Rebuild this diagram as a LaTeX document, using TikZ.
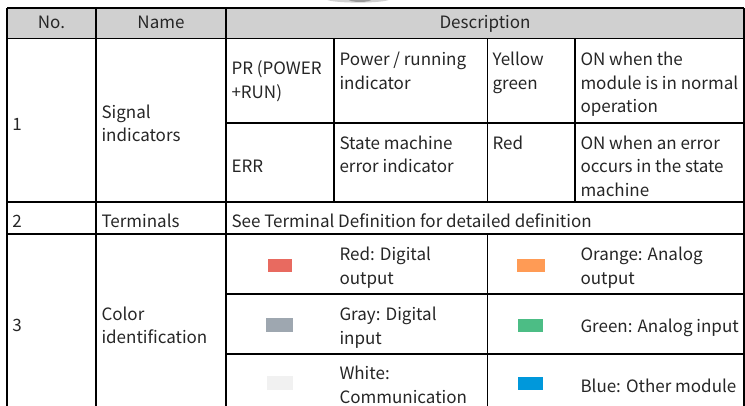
\documentclass[tikz,border=0pt]{standalone}
\usepackage{fontspec}
\setmainfont{Noto Sans CJK SC}
\definecolor{txt}{HTML}{262626}
\definecolor{hdr}{HTML}{D0D0D0}
\definecolor{swred}{HTML}{E86A60}
\definecolor{sworange}{HTML}{FF9B55}
\definecolor{swgray}{HTML}{9EA7B0}
\definecolor{swgreen}{HTML}{4CBD85}
\definecolor{swblue}{HTML}{0098DB}
\definecolor{swwhite}{HTML}{F1F1F1}
\newcommand{\lines}[1]{\begin{tabular}[t]{@{}l@{}}#1\end{tabular}}
\begin{document}
\begin{tikzpicture}[x=1pt,y=-1pt,
  cell/.style={anchor=base west, inner sep=0pt, outer sep=0pt, text=txt,
    font=\fontsize{17}{23.3}\selectfont},
  ccell/.style={cell, anchor=base},
  rule/.style={line width=1.2pt, draw=black},
  swatch/.style={draw=none}]
\clip (0,0) rectangle (745,406);
\fill[white] (0,0) rectangle (745,406);
% faint fragment at top edge
\fill[black!18] (358,-1) ellipse [x radius=32pt, y radius=3.6pt];
\fill[black!40] (360,-1) ellipse [x radius=12pt, y radius=3pt];
% header background
\fill[hdr] (7,8) rectangle (744,38.5);
% swatches
\fill[swred]    (268,259) rectangle (292,272);
\fill[sworange] (517,259) rectangle (545,272);
\fill[swgray]   (266,318) rectangle (293,332);
\fill[swgreen]  (518,319) rectangle (543,332);
\fill[swwhite]  (267,376) rectangle (293,390);
\fill[swblue]   (518,377) rectangle (543,390);
% rules
\draw[rule] (7,8) -- (744,8);
\draw[rule] (7,38.5) -- (744,38.5);
\draw[rule] (226,123) -- (744,123);
\draw[rule] (7,202) -- (744,202);
\draw[rule] (7,234) -- (744,234);
\draw[rule] (226,294) -- (744,294);
\draw[rule] (226,354) -- (744,354);
\draw[rule] (7,8) -- (7,406);
\draw[rule] (96,8) -- (96,406);
\draw[rule] (226,8) -- (226,406);
\draw[rule] (744,8) -- (744,406);
\draw[rule] (334,38.5) -- (334,202);
\draw[rule] (487.5,38.5) -- (487.5,202);
\draw[rule] (487.5,234) -- (487.5,406);
\draw[rule] (575,38.5) -- (575,202);
% header
\node[ccell] (hno)   at (51.5,29) {No.};
\node[ccell] (hname) at (161,29) {Name};
\node[ccell] (hdesc) at (485,29) {Description};
% row 1
\node[cell] (n1) at (12.5,130.5) {1};
\node[cell] (name1) at (101.5,118.5) {\lines{Signal\\indicators}};
\node[cell] (pr) at (231.5,75) {\lines{PR (POWER\\+RUN)}};
\node[cell] (prd) at (339.5,66) {\lines{Power / running\\indicator}};
\node[cell] (prc) at (492.5,66) {\lines{Yellow\\green}};
\node[cell] (prs) at (580.5,66) {\lines{ON when the\\module is in normal\\operation}};
\node[cell] (err) at (231.5,173) {ERR};
\node[cell] (errd) at (339.5,149.5) {\lines{State machine\\error indicator}};
\node[cell] (errc) at (492.5,149.5) {Red};
\node[cell] (errs) at (580.5,149.5) {\lines{ON when an error\\occurs in the state\\machine}};
% row 2
\node[cell] (n2) at (12.5,228) {2};
\node[cell] (name2) at (101.5,228) {Terminals};
\node[cell] (term) at (231.5,228) {See Terminal Definition for detailed definition};
% row 3
\node[cell] (n3) at (12.5,332) {3};
\node[cell] (name3) at (101.5,320.7) {\lines{Color\\identification}};
\node[cell] (cred) at (339.5,261) {\lines{Red: Digital\\output}};
\node[cell] (corange) at (580.5,261) {\lines{Orange: Analog\\output}};
\node[cell] (cgray) at (339.5,321) {\lines{Gray: Digital\\input}};
\node[cell] (cgreen) at (580.5,333) {Green: Analog input};
\node[cell] (cwhite) at (339.5,380) {\lines{White:\\Communication}};
\node[cell] (cblue) at (580.5,392.5) {Blue: Other module};
\end{tikzpicture}
\end{document}
